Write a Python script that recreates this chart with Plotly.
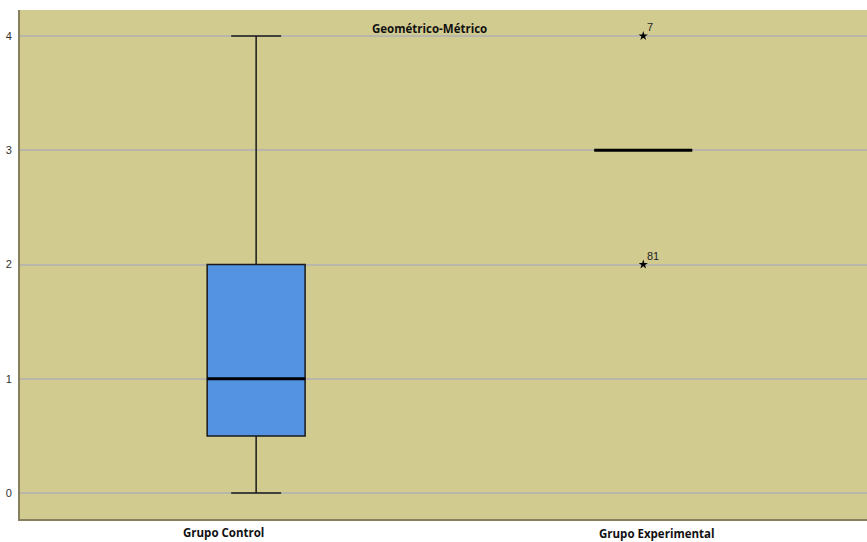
import plotly.graph_objects as go

# Summary statistics for each group (Geométrico-Métrico score)
groups = ["Grupo Control", "Grupo Experimental"]
group_pos = [0, 1]
q1 = [0.5, 3]
median = [1, 3]
q3 = [2, 3]
lower_fence = [0, 3]
upper_fence = [4, 3]

# Extreme values flagged with their case numbers
outlier_x = [1, 1]
outlier_y = [4, 2]
outlier_case = ["7", "81"]

y_ticks = [0, 1, 2, 3, 4]

BOX_W = 0.253
BG = "#D1CB90"
GRID = "#B8B6AA"
AXIS = "#86805F"
LABEL_FONT = "Open Sans, Liberation Sans, sans-serif"

fig = go.Figure()

fig.add_trace(go.Box(
    x=group_pos, q1=q1, median=median, q3=q3,
    lowerfence=lower_fence, upperfence=upper_fence,
    width=BOX_W, whiskerwidth=0.51,
    fillcolor="#5393E2", line=dict(color="#1A1A1A", width=1.5),
    boxpoints=False, hoverinfo="skip", showlegend=False,
))

# Thick median bars
for xp, m in zip(group_pos, median):
    fig.add_trace(go.Scatter(
        x=[xp - BOX_W / 2, xp + BOX_W / 2], y=[m, m], mode="lines",
        line=dict(color="black", width=3), showlegend=False, hoverinfo="skip",
    ))

fig.add_trace(go.Scatter(
    x=outlier_x, y=outlier_y, mode="markers",
    marker=dict(symbol="star", size=7, color="black"),
    showlegend=False, hoverinfo="skip",
))
for ox, oy, case in zip(outlier_x, outlier_y, outlier_case):
    fig.add_annotation(
        x=ox, y=oy, xref="x", yref="y", text=case, showarrow=False,
        xanchor="left", yanchor="bottom", xshift=2, yshift=1,
        font=dict(family="Liberation Sans, Arial, sans-serif", size=11, color="#222"),
    )

# Category labels below the axis
label_x = [0.24, 0.752]
label_y = [-0.027, -0.029]
for lx, ly, g in zip(label_x, label_y, groups):
    fig.add_annotation(
        x=lx, y=ly, xref="paper", yref="paper", text=f"<b>{g}</b>", showarrow=False,
        font=dict(family=LABEL_FONT, size=11.5, color="#111"),
        xanchor="center", yanchor="middle",
    )

fig.add_annotation(
    x=0.484, y=0.963, xref="paper", yref="paper", text="<b>Geométrico-Métrico</b>",
    showarrow=False, xanchor="center", yanchor="middle",
    font=dict(family=LABEL_FONT, size=11.5, color="#111"),
)

fig.update_layout(
    width=867, height=542,
    margin=dict(l=20, r=0, t=10, b=23),
    paper_bgcolor="white", plot_bgcolor=BG,
    xaxis=dict(range=[-0.61, 1.578], showticklabels=False, showgrid=False,
               zeroline=False, showline=True, linecolor=AXIS, linewidth=2, ticks=""),
    yaxis=dict(range=[-0.227, 4.227], tickvals=y_ticks, showgrid=True, gridcolor=GRID,
               gridwidth=1.5, zeroline=False, showline=True, linecolor=AXIS, linewidth=2,
               ticks="", tickfont=dict(family="Liberation Sans, Arial, sans-serif",
                                        size=11, color="#333"), ticklabelstandoff=4),
)

fig.write_html("out.html")
